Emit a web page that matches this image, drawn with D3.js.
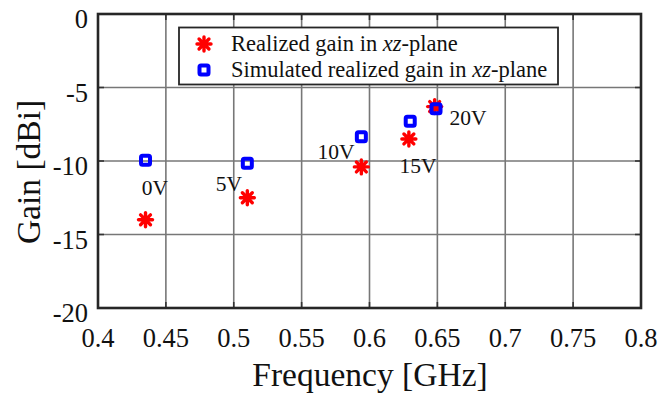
<!DOCTYPE html>
<html>
<head>
<meta charset="utf-8">
<script src="https://cdn.jsdelivr.net/npm/d3@7"></script>
<style>
  html, body { margin: 0; padding: 0; background: #fff; }
  svg { display: block; font-family: "Liberation Serif", "Times New Roman", Times, serif; }
</style>
</head>
<body>
<svg id="chart" width="665" height="395"></svg>
<script>
// Bias voltage states
const biasLabels = ["0V", "5V", "10V", "15V", "20V"];
// Frequency of each state [GHz]
const freqMeasured = [0.435, 0.51, 0.594, 0.629, 0.648];
const freqSimulated = [0.435, 0.51, 0.594, 0.63, 0.649];
// Realized gain in xz-plane [dBi]
const gainMeasured = [-14.0, -12.5, -10.4, -8.5, -6.3];
// Simulated realized gain in xz-plane [dBi]
const gainSimulated = [-9.95, -10.15, -8.35, -7.3, -6.45];
// Axis ticks
const xTicks = [0.4, 0.45, 0.5, 0.55, 0.6, 0.65, 0.7, 0.75, 0.8];
const yTicks = [0, -5, -10, -15, -20];

const svg = d3.select("#chart");
const m = { left: 98, right: 641, top: 14, bottom: 308 };

const x = d3.scaleLinear().domain([0.4, 0.8]).range([m.left, m.right]);
const y = d3.scaleLinear().domain([-20, 0]).range([m.bottom, m.top]);

// grid
const grid = svg.append("g").attr("stroke", "#777").attr("stroke-width", 1.6);
xTicks.slice(1, -1).forEach(t => grid.append("line")
  .attr("x1", x(t)).attr("x2", x(t)).attr("y1", m.top).attr("y2", m.bottom));
yTicks.slice(1, -1).forEach(t => grid.append("line")
  .attr("x1", m.left).attr("x2", m.right).attr("y1", y(t)).attr("y2", y(t)));

// inward ticks on all four sides
const tk = svg.append("g").attr("stroke", "#333").attr("stroke-width", 1.6);
xTicks.forEach(t => {
  tk.append("line").attr("x1", x(t)).attr("x2", x(t)).attr("y1", m.bottom).attr("y2", m.bottom - 6);
  tk.append("line").attr("x1", x(t)).attr("x2", x(t)).attr("y1", m.top).attr("y2", m.top + 6);
});
yTicks.forEach(t => {
  tk.append("line").attr("x1", m.left).attr("x2", m.left + 6).attr("y1", y(t)).attr("y2", y(t));
  tk.append("line").attr("x1", m.right).attr("x2", m.right - 6).attr("y1", y(t)).attr("y2", y(t));
});

// frame
svg.append("rect")
  .attr("x", m.left).attr("y", m.top)
  .attr("width", m.right - m.left).attr("height", m.bottom - m.top)
  .attr("fill", "none").attr("stroke", "#262626").attr("stroke-width", 2.6);

// tick labels
svg.append("g").selectAll("text").data(xTicks).join("text")
  .attr("x", d => x(d)).attr("y", 347)
  .attr("text-anchor", "middle").attr("font-size", 26.5).attr("fill", "#111")
  .text(d => d3.format("")(d));
svg.append("g").selectAll("text").data(yTicks).join("text")
  .attr("x", 88).attr("y", d => y(d) + 14)
  .attr("text-anchor", "end").attr("font-size", 26.5).attr("fill", "#111")
  .text(d => d);

// axis titles
svg.append("text").attr("x", 370).attr("y", 386)
  .attr("text-anchor", "middle").attr("font-size", 33.5).attr("fill", "#111")
  .text("Frequency [GHz]");
svg.append("text")
  .attr("transform", "translate(40,172) rotate(-90)")
  .attr("text-anchor", "middle").attr("font-size", 33.5).attr("fill", "#111")
  .text("Gain [dBi]");

// markers
function asterisk(g, cx, cy, r) {
  const a = g.append("g").attr("transform", `translate(${cx},${cy})`);
  a.append("circle").attr("r", r * 0.62).attr("fill", "#ff0000");
  for (let i = 0; i < 4; i++) {
    const ang = i * Math.PI / 4;
    a.append("line")
      .attr("x1", -r * Math.cos(ang)).attr("y1", -r * Math.sin(ang))
      .attr("x2", r * Math.cos(ang)).attr("y2", r * Math.sin(ang))
      .attr("stroke", "#ff0000").attr("stroke-width", 3.4).attr("stroke-linecap", "round");
  }
}
function square(g, cx, cy, s) {
  g.append("rect").attr("x", cx - s / 2).attr("y", cy - s / 2)
    .attr("width", s).attr("height", s).attr("rx", 1.5)
    .attr("fill", "none").attr("stroke", "#0000ff").attr("stroke-width", 4);
}

const pts = svg.append("g");
freqMeasured.forEach((f, i) => asterisk(pts, x(f), y(gainMeasured[i]), 7));
freqSimulated.forEach((f, i) => square(pts, x(f), y(gainSimulated[i]), 9));

// state labels
const labelPos = [[155, 195], [229, 191], [336, 159], [418, 173], [468, 125]];
svg.append("g").selectAll("text").data(biasLabels).join("text")
  .attr("x", (d, i) => labelPos[i][0]).attr("y", (d, i) => labelPos[i][1])
  .attr("text-anchor", "middle").attr("font-size", 21.5).attr("fill", "#111")
  .text(d => d);

// legend
const lg = svg.append("g");
lg.append("rect").attr("x", 179).attr("y", 27.5).attr("width", 379).attr("height", 57)
  .attr("fill", "#fff").attr("stroke", "#262626").attr("stroke-width", 1.8);
asterisk(lg, 204, 44, 7);
square(lg, 204, 70, 9);
const lt1 = lg.append("text").attr("x", 231).attr("y", 51).attr("font-size", 22.5).attr("fill", "#111");
lt1.append("tspan").text("Realized gain in ");
lt1.append("tspan").attr("font-style", "italic").text("xz");
lt1.append("tspan").text("-plane");
const lt2 = lg.append("text").attr("x", 231).attr("y", 77).attr("font-size", 22.5).attr("fill", "#111");
lt2.append("tspan").text("Simulated realized gain in ");
lt2.append("tspan").attr("font-style", "italic").text("xz");
lt2.append("tspan").text("-plane");
</script>
</body>
</html>
